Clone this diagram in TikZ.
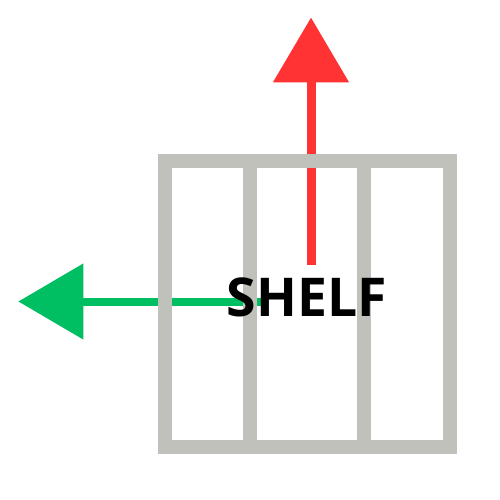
\documentclass[tikz,border=0pt]{standalone}
\usepackage{fontspec}
\setmainfont{Open Sans}
\usetikzlibrary{positioning,arrows.meta}
\definecolor{shelfgrey}{RGB}{192,193,186}
\definecolor{uparrow}{RGB}{255,51,51}
\definecolor{leftarrow}{RGB}{0,190,98}
\begin{document}
\begin{tikzpicture}[x=1pt,y=-1pt,
    frame/.style={draw=shelfgrey, line width=14pt},
    force/.style={line width=#1, -{Triangle[width=74pt,length=65pt]}}]
            \useasboundingbox (0,0) rectangle (500,500);

            \coordinate (up) at (311,17.5);
            \coordinate (left) at (18.3,301.5);
            \coordinate (upstart) at (311,265);
            \coordinate (leftstart) at (262,301.5);

            \draw [force=9pt, uparrow] (upstart) -- (up);
            \draw [force=8pt, leftarrow] (leftstart) -- (left);

            \draw [frame] (164.5,161) rectangle (449.7,446.7);
            \draw [frame] (249.7,161) -- (249.7,446.7);
            \draw [frame] (364,161) -- (364,446.7);

            \node [anchor=base, inner sep=0pt, font=\bfseries\fontsize{53.5}{58}\selectfont] (shelf) at (306.8,316.5) {SHELF};
        \end{tikzpicture}
\end{document}
